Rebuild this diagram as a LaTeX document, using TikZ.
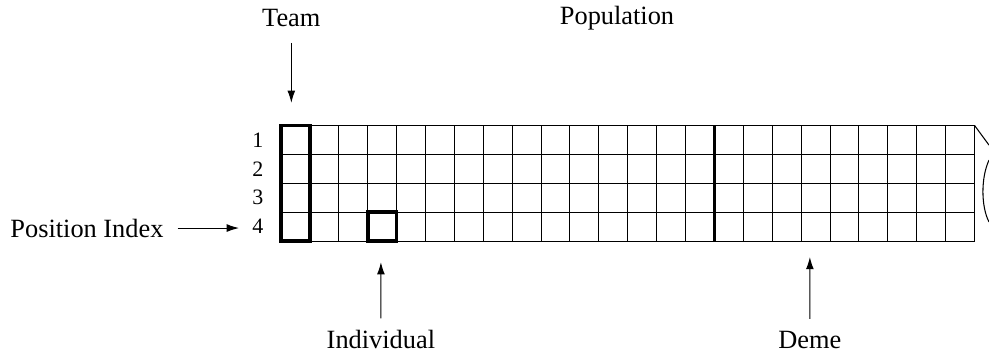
\documentclass[tikz,border=0pt]{standalone}
\usepackage{fontspec}
\setmainfont{Liberation Serif}
\usetikzlibrary{arrows.meta}

\tikzset{
  lbl/.style={font=\fontsize{15}{18}\selectfont},
  idx/.style={font=\fontsize{12.5}{15}\selectfont},
  pointer/.style={-{Latex[length=7pt,width=4.5pt]},line width=0.6pt},
  heavy/.style={line width=2.2pt}
}

\begin{document}
\begin{tikzpicture}[scale=0.578]
\useasboundingbox (-9.72,-4.01) rectangle (24.50,8.34);
% population grid
\draw[step=1,line width=0.6pt] (0,0) grid (24,4);
\draw[heavy] (0,0) rectangle (1,4);
\draw[heavy] (3,0) rectangle (4,1);
\draw[heavy] (15,0) -- (15,4);
% broken right edge
\draw[line width=0.6pt] (24,4) -- (24.5,3.32);
\draw[line width=0.6pt] (24.5,2.8) .. controls (24.22,2.2) and (24.22,1.2) .. (24.5,0.66);
% row numbers
\foreach \i in {1,...,4}
  \node[idx] (n\i) at (-0.8,4.5-\i) {\i};
% labels
\node[lbl] (team) at (0.36,7.72) {Team};
\node[lbl] (pop) at (11.63,7.72) {Population};
\node[lbl] (posidx) at (-6.71,0.45) {Position Index};
\node[lbl] (indiv) at (3.46,-3.42) {Individual};
\node[lbl] (deme) at (18.3,-3.42) {Deme};
\coordinate (teamtip) at (0.36,4.78);
\coordinate (postip) at (-1.45,0.45);
\coordinate (indivtip) at (3.46,-0.73);
\coordinate (demetip) at (18.3,-0.55);
\draw[pointer,shorten <=0.2cm] (team) -- (teamtip);
\draw[pointer,shorten <=0.16cm] (posidx) -- (postip);
\draw[pointer,shorten <=0.12cm] (indiv) -- (indivtip);
\draw[pointer,shorten <=0.12cm] (deme) -- (demetip);
\end{tikzpicture}
\end{document}
